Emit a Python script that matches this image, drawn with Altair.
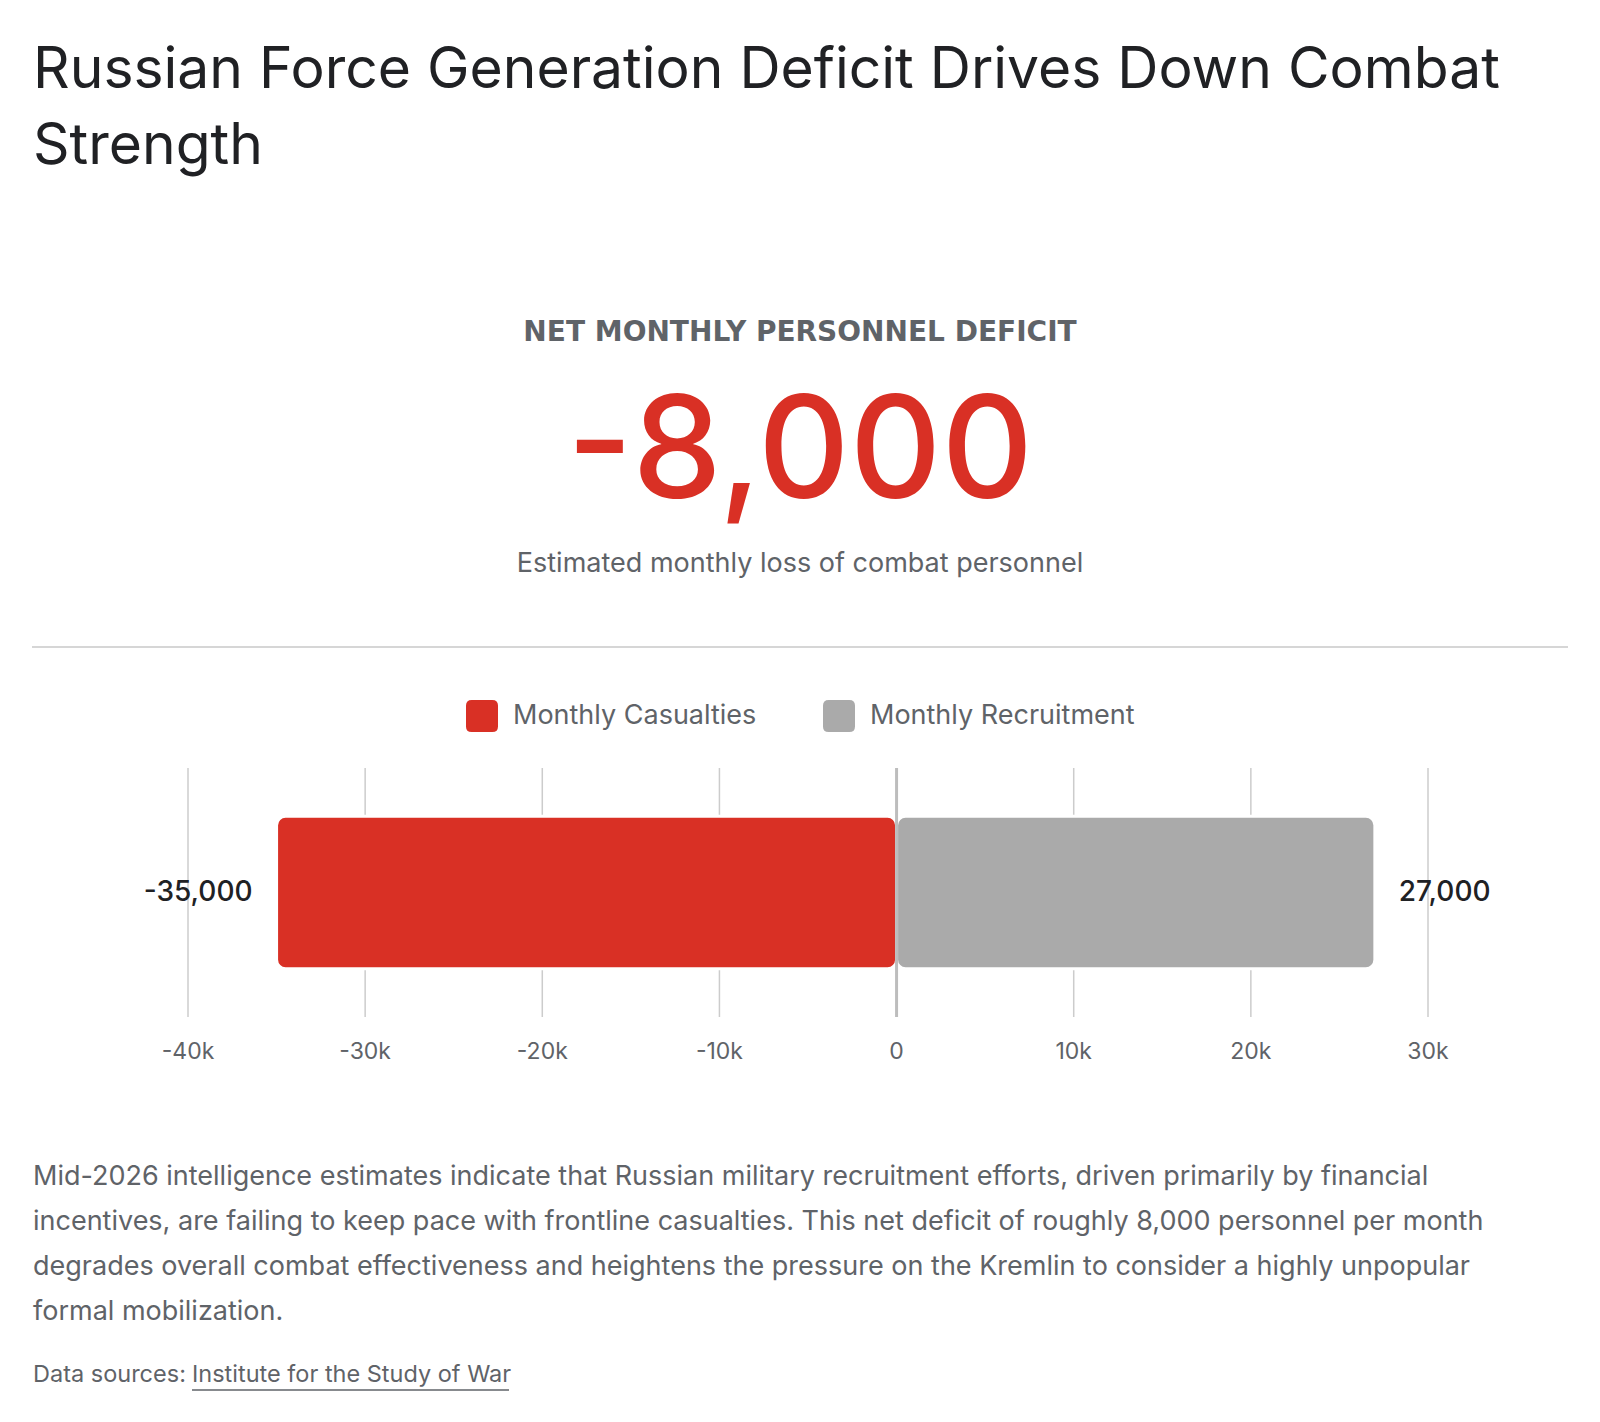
import altair as alt
import pandas as pd

# ---------------- data ----------------
series = ["Monthly Casualties", "Monthly Recruitment"]
values = [-35000, 27000]
colors = ["#d93025", "#aaaaaa"]
bar_row = ["Personnel", "Personnel"]

tick_values = [-40000, -30000, -20000, -10000, 0, 10000, 20000, 30000]
tick_labels = ["-40k", "-30k", "-20k", "-10k", "0", "10k", "20k", "30k"]

title_lines = ["Russian Force Generation Deficit Drives Down Combat", "Strength"]
kpi_label = "NET MONTHLY PERSONNEL DEFICIT"
kpi_value = "-8,000"
kpi_caption = "Estimated monthly loss of combat personnel"
body_lines = [
    "Mid-2026 intelligence estimates indicate that Russian military recruitment efforts, driven primarily by financial",
    "incentives, are failing to keep pace with frontline casualties. This net deficit of roughly 8,000 personnel per month",
    "degrades overall combat effectiveness and heightens the pressure on the Kremlin to consider a highly unpopular",
    "formal mobilization.",
]
source_prefix = "Data sources:"
source_link = "Institute for the Study of War"

# ---------------- style ----------------
FONT = "Inter"
DARK = "#202124"
GREY = "#5f6368"
W, H = 1600, 1422

bars_df = pd.DataFrame({"series": series, "value": values, "row": bar_row})
ticks_df = pd.DataFrame({"t": tick_values, "label": tick_labels})
one = pd.DataFrame({"a": [0]})

xscale = alt.Scale(domain=[tick_values[0], tick_values[-1]], range=[188, 1428], nice=False, zero=False)
yscale = alt.Scale(domain=["Personnel"], range=[768, 1017], paddingInner=0.24, paddingOuter=0.24)

rounded = ("M -0.65 -1 L 0.65 -1 Q 1 -1 1 -0.65 L 1 0.65 Q 1 1 0.65 1 L -0.65 1 "
           "Q -1 1 -1 0.65 L -1 -0.65 Q -1 -1 -0.65 -1 Z")


def text_layer(txt, x, y, size, color, weight="normal", align="left", font=FONT):
    return alt.Chart(one).mark_text(
        text=txt, font=font, fontSize=size, color=color, fontWeight=weight,
        align=align, baseline="alphabetic",
    ).encode(x=alt.value(x), y=alt.value(y))


layers = []
# title
layers.append(text_layer(title_lines[0], 33, 88, 57, DARK))
layers.append(text_layer(title_lines[1], 33, 164, 57, DARK))
# KPI
layers.append(text_layer(kpi_label, 800, 341, 28, GREY, weight="bold", align="center",
                         font="DejaVu Sans"))
layers.append(text_layer(kpi_value, 800, 498, 142, "#d93025", weight=500, align="center"))
layers.append(text_layer(kpi_caption, 800, 572, 27, GREY, align="center"))

# separator
layers.append(alt.Chart(one).mark_rule(color="#c8c8c8", strokeWidth=1.5).encode(
    x=alt.value(32), x2=alt.value(1568), y=alt.value(647)))

# gridlines
layers.append(alt.Chart(ticks_df).transform_filter("datum.t != 0").mark_rule(
    color="#cccccc", strokeWidth=1.5).encode(
    x=alt.X("t:Q", scale=xscale, axis=None), y=alt.value(768), y2=alt.value(1017)))

# bars
layers.append(alt.Chart(bars_df).mark_bar(cornerRadius=9, stroke="white", strokeWidth=3).encode(
    x=alt.X("value:Q", scale=xscale, axis=None),
    x2=alt.datum(0),
    y=alt.Y("row:N", scale=yscale, axis=None),
    color=alt.Color("series:N", scale=alt.Scale(domain=series, range=colors),
                    legend=alt.Legend(
                        orient="none", legendX=466, legendY=700, direction="horizontal",
                        title=None, symbolType=rounded, symbolSize=1024, symbolStrokeWidth=0,
                        labelFont=FONT, labelFontSize=27, labelColor=GREY,
                        labelOffset=15, columnPadding=66, padding=0, labelLimit=400,
                    )),
))

# zero line on top
layers.append(alt.Chart(ticks_df).transform_filter("datum.t == 0").mark_rule(
    color="#bdbdbd", strokeWidth=3).encode(
    x=alt.X("t:Q", scale=xscale, axis=None), y=alt.value(768), y2=alt.value(1017)))

# value labels (plain hyphen for negatives)
label_expr = "replace(format(datum.value, ','), '\u2212', '-')"
for sub, align, dx in [(bars_df[bars_df.value < 0], "right", -24),
                       (bars_df[bars_df.value >= 0], "left", 24)]:
    layers.append(alt.Chart(sub).transform_calculate(vlabel=label_expr).mark_text(
        font=FONT, fontSize=28, fontWeight=500, color=DARK, align=align, baseline="middle", dx=dx
    ).encode(x=alt.X("value:Q", scale=xscale, axis=None),
             y=alt.Y("row:N", scale=yscale, axis=None),
             text="vlabel:N"))

# axis tick labels
layers.append(alt.Chart(ticks_df).mark_text(
    font=FONT, fontSize=23, color=GREY, align="center", baseline="alphabetic"
).encode(x=alt.X("t:Q", scale=xscale, axis=None), y=alt.value(1059), text="label:N"))

# body text
for i, line in enumerate(body_lines):
    layers.append(text_layer(line, 33, 1185 + 45 * i, 27, GREY))

# source
layers.append(text_layer(source_prefix, 33, 1382, 23.5, GREY))
layers.append(text_layer(source_link, 192, 1382, 23.5, GREY))
layers.append(alt.Chart(one).mark_rule(color=GREY, strokeWidth=1.5).encode(
    x=alt.value(192), x2=alt.value(509), y=alt.value(1390)))

chart = alt.layer(*layers).properties(
    width=W, height=H, padding=0, autosize="none", background="white"
).configure_view(stroke=None)

chart.save("out.html", embed_options={"renderer": "svg", "actions": False})
